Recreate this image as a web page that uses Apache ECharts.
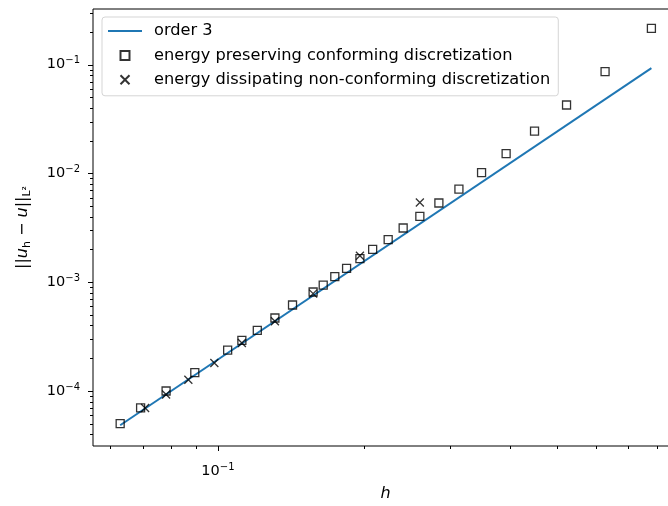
<!DOCTYPE html>
<html><head><meta charset="utf-8">
<script src="https://cdn.jsdelivr.net/npm/echarts@6/dist/echarts.min.js"></script>
<style>html,body{margin:0;padding:0;background:#fff}#c{width:668px;height:506px}</style>
</head><body><div id="c"></div>
<script>
// ---- data ----
const hSquares = [0.0629, 0.0693, 0.0782, 0.0896, 0.1047, 0.112, 0.1205, 0.131, 0.1424, 0.157, 0.1647, 0.174, 0.184, 0.196, 0.2082, 0.2241, 0.2406, 0.2604, 0.285, 0.3134, 0.3489, 0.392, 0.4485, 0.522, 0.6266, 0.7805];
const errSquares = [5.02e-5, 6.98e-5, 1.0e-4, 1.476e-4, 2.37e-4, 2.92e-4, 3.61e-4, 4.69e-4, 6.17e-4, 8.13e-4, 9.42e-4, 1.125e-3, 1.342e-3, 1.648e-3, 2.005e-3, 2.46e-3, 3.15e-3, 4.03e-3, 5.35e-3, 7.19e-3, 1.017e-2, 1.52e-2, 2.45e-2, 4.26e-2, 8.62e-2, 0.2157];
const hCrosses = [0.0708, 0.0782, 0.0869, 0.0983, 0.112, 0.131, 0.157, 0.196, 0.2604];
const errCrosses = [6.98e-5, 9.27e-5, 1.27e-4, 1.81e-4, 2.76e-4, 4.37e-4, 7.85e-4, 1.75e-3, 5.4e-3];
const hOrder3 = [0.0629, 0.7805];
const errOrder3 = [4.84e-5, 0.093];

const seriesNames = ['order 3', 'energy preserving conforming discretization', 'energy dissipating non-conforming discretization'];

// axis ranges and ticks
const X_MIN = 0.0553, X_MAX = 0.8854;
const Y_MIN = 3.12e-5, Y_MAX = 0.325;
const xMajorTicks = [0.1];
const xMinorTicks = [0.06, 0.07, 0.08, 0.09, 0.2, 0.3, 0.4, 0.5, 0.6, 0.7, 0.8];
const yMajorTicks = [1e-4, 1e-3, 1e-2, 1e-1];
const yMinorTicks = [4e-5, 5e-5, 6e-5, 7e-5, 8e-5, 9e-5,
  2e-4, 3e-4, 4e-4, 5e-4, 6e-4, 7e-4, 8e-4, 9e-4,
  2e-3, 3e-3, 4e-3, 5e-3, 6e-3, 7e-3, 8e-3, 9e-3,
  2e-2, 3e-2, 4e-2, 5e-2, 6e-2, 7e-2, 8e-2, 9e-2,
  0.2, 0.3];

const FONT = 'DejaVu Sans';
const SQUARE = 'path://M0,0L10,0L10,10L0,10Z';
const CROSS = 'path://M0,0L10,10M10,0L0,10';
const zip = (a, b) => a.map((v, i) => [v, b[i]]);

function powLabel(v) {
  const k = Math.round(Math.log10(v));
  if (Math.abs(Math.log10(v) - k) > 1e-6) return '';
  return '{b|10}{s|' + (k < 0 ? '\u2212' + (-k) : k) + '}';
}
const labelRich = {
  b: {fontFamily: FONT, fontSize: 14.5, color: '#000', lineHeight: 18},
  s: {fontFamily: FONT, fontSize: 10, color: '#000', lineHeight: 10, verticalAlign: 'top'}
};

const xTickData = xMajorTicks.map(v => [v, Y_MIN, 1]).concat(xMinorTicks.map(v => [v, Y_MIN, 0]));
const yTickData = yMajorTicks.map(v => [X_MIN, v, 1]).concat(yMinorTicks.map(v => [X_MIN, v, 0]));

const chart = echarts.init(document.getElementById('c'), null, {renderer: 'canvas'});
chart.setOption({
  animation: false,
  backgroundColor: '#fff',
  grid: {left: 93, top: 9, width: 585, height: 437, outerBoundsMode: 'none', containLabel: false,
         show: true, borderColor: '#000', borderWidth: 1, backgroundColor: 'transparent'},
  xAxis: {
    type: 'log', logBase: 10, min: X_MIN, max: X_MAX,
    axisLine: {show: false}, axisTick: {show: false}, splitLine: {show: false}, minorTick: {show: false},
    axisLabel: {formatter: powLabel, rich: labelRich, margin: 16, showMinLabel: false, showMaxLabel: false},
    name: 'h', nameLocation: 'middle', nameGap: 38,
    nameTextStyle: {fontFamily: FONT, fontSize: 16, fontStyle: 'italic', color: '#000', lineHeight: 20}
  },
  yAxis: {
    type: 'log', logBase: 10, min: Y_MIN, max: Y_MAX,
    axisLine: {show: false}, axisTick: {show: false}, splitLine: {show: false}, minorTick: {show: false},
    axisLabel: {formatter: powLabel, rich: labelRich, margin: 13, showMinLabel: false, showMaxLabel: false},
    name: '{t|||}{i|u}{s|h}{t| \u2212 }{i|u}{t|||}{s|L\u00b2}',
    nameLocation: 'middle', nameRotate: 90, nameGap: 60,
    nameTextStyle: {
      rich: {
        t: {fontFamily: FONT, fontSize: 16, color: '#000', lineHeight: 20},
        i: {fontFamily: FONT, fontSize: 16, fontStyle: 'italic', color: '#000', lineHeight: 20},
        s: {fontFamily: FONT, fontSize: 11, color: '#000', lineHeight: 14, verticalAlign: 'bottom'}
      }
    }
  },
  legend: {
    data: [
      {name: seriesNames[0], itemStyle: {opacity: 0}},
      {name: seriesNames[1], icon: SQUARE},
      {name: seriesNames[2], icon: CROSS}
    ],
    orient: 'vertical', left: 102, top: 17,
    padding: [5, 8, 7, 5], itemGap: 6.4, itemWidth: 34, itemHeight: 9, symbolKeepAspect: true,
    textStyle: {fontFamily: FONT, fontSize: 16.2, color: '#000', lineHeight: 18, padding: [0, 0, 0, 7]},
    backgroundColor: 'rgba(255,255,255,0.8)', borderColor: '#d5d5d5', borderWidth: 1, borderRadius: 3
  },
  series: [
    {
      name: seriesNames[0], type: 'line', data: zip(hOrder3, errOrder3),
      symbol: 'none', lineStyle: {color: '#1f77b4', width: 2}, itemStyle: {color: '#1f77b4'}, z: 2
    },
    {
      name: seriesNames[1], type: 'scatter', data: zip(hSquares, errSquares),
      symbol: SQUARE, symbolSize: 8, symbolKeepAspect: true,
      itemStyle: {color: 'none', borderColor: '#000', borderWidth: 1.3}, z: 3
    },
    {
      name: seriesNames[2], type: 'scatter', data: zip(hCrosses, errCrosses),
      symbol: CROSS, symbolSize: 8, symbolKeepAspect: true,
      itemStyle: {color: 'none', borderColor: '#000', borderWidth: 1.3}, z: 4
    },
    {
      type: 'custom', name: 'xticks', data: xTickData, clip: false, silent: true, z: 5,
      renderItem: (params, api) => {
        const p = api.coord([api.value(0), api.value(1)]);
        const len = api.value(2) ? 5 : 3;
        const x = Math.round(p[0]) + 0.5;
        return {type: 'line', shape: {x1: x, y1: p[1], x2: x, y2: p[1] + len}, style: {stroke: '#000', lineWidth: 1}};
      }
    },
    {
      type: 'custom', name: 'yticks', data: yTickData, clip: false, silent: true, z: 5,
      renderItem: (params, api) => {
        const p = api.coord([api.value(0), api.value(1)]);
        const len = api.value(2) ? 5 : 3;
        const y = Math.round(p[1]) + 0.5;
        return {type: 'line', shape: {x1: p[0], y1: y, x2: p[0] - len, y2: y}, style: {stroke: '#000', lineWidth: 1}};
      }
    }
  ]
});
</script>
</body></html>
